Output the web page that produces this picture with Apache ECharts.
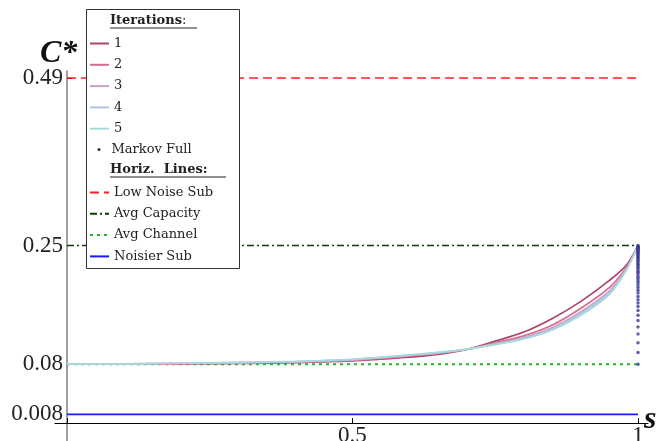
<!DOCTYPE html>
<html>
<head>
<meta charset="utf-8">
<script src="https://cdn.jsdelivr.net/npm/echarts@6/dist/echarts.min.js"></script>
<style>html,body{margin:0;padding:0;background:#fff}#c{width:668px;height:441px}</style>
</head>
<body>
<div id="c"></div>
<script>
// s grid for the iteration curves
const sValues = [0, 0.1, 0.2, 0.3, 0.4, 0.5, 0.55, 0.6, 0.65, 0.7, 0.75, 0.8, 0.85, 0.9, 0.95, 0.98, 1.0];
const iter1 = [0.080, 0.0802, 0.0806, 0.0812, 0.0822, 0.0845, 0.0872, 0.0900, 0.0940, 0.1010, 0.1130, 0.1260, 0.1455, 0.1700, 0.2000, 0.2220, 0.250];
const iter2 = [0.080, 0.0803, 0.0809, 0.0816, 0.0829, 0.0855, 0.0883, 0.0915, 0.0953, 0.1012, 0.1105, 0.1205, 0.1360, 0.1600, 0.1900, 0.2190, 0.250];
const iter3 = [0.080, 0.0804, 0.0811, 0.0820, 0.0834, 0.0862, 0.0891, 0.0925, 0.0962, 0.1013, 0.1092, 0.1182, 0.1325, 0.1550, 0.1850, 0.2170, 0.250];
const iter4 = [0.080, 0.0805, 0.0813, 0.0823, 0.0837, 0.0866, 0.0896, 0.0930, 0.0966, 0.1014, 0.1085, 0.1170, 0.1305, 0.1525, 0.1825, 0.2160, 0.250];
const iter5 = [0.080, 0.0805, 0.0815, 0.0825, 0.0840, 0.0870, 0.0900, 0.0935, 0.0970, 0.1015, 0.1080, 0.1160, 0.1290, 0.1500, 0.1800, 0.2150, 0.250];
// Markov Full points (all at s = 1)
const markovS = 1.0;
const markovC = [0.080, 0.0966, 0.1107, 0.1232, 0.1333, 0.1424, 0.1502, 0.1568, 0.1626, 0.1675, 0.1722, 0.1770, 0.1818,
  0.186, 0.190, 0.1935, 0.197, 0.200, 0.203, 0.206, 0.209, 0.2115, 0.214, 0.2165, 0.219, 0.221, 0.223, 0.225, 0.227,
  0.229, 0.231, 0.2325, 0.234, 0.2355, 0.237, 0.2385, 0.240, 0.241, 0.242, 0.243, 0.244, 0.245, 0.246, 0.247, 0.248, 0.249, 0.250];
// horizontal reference lines
const hLineNames = ['Low Noise Sub', 'Avg Capacity', 'Avg Channel', 'Noisier Sub'];
const hLineValues = [0.49, 0.25, 0.08, 0.008];
const hLineSpan = [0, 1];
// ticks
const yTicks = [0.008, 0.08, 0.25, 0.49];
const xTickMarks = [0, 0.5, 1];
const xTickLabels = [0.5, 1];
const iterNames = ['1', '2', '3', '4', '5'];

const iterData = [iter1, iter2, iter3, iter4, iter5];
const iterColors = ['#a9446f', '#d66d8d', '#cf9fcc', '#adc2e3', '#a6dbdb'];
const hStyles = [
  {color: '#ff2020', type: [9, 5], width: 1.6},
  {color: '#0f3a0f', type: [7, 3, 2, 3], width: 1.4},
  {color: '#22b822', type: [3, 4], width: 2},
  {color: '#1a1aff', type: 'solid', width: 1.8}
];

const series = [];
iterData.forEach((arr, i) => {
  series.push({
    name: iterNames[i], type: 'line', smooth: 0.3, symbol: 'none', z: 3,
    data: sValues.map((s, j) => [s, arr[j]]),
    lineStyle: {color: iterColors[i], width: 1.7}, itemStyle: {color: iterColors[i]}
  });
});
series.push({
  name: 'Markov Full', type: 'scatter', symbolSize: 3.5, z: 4,
  data: markovC.map(v => [markovS, v]),
  itemStyle: {color: '#3b3b96'}
});
hLineNames.forEach((n, i) => {
  series.push({
    name: n, type: 'line', symbol: 'none', z: 2,
    data: hLineSpan.map(s => [s, hLineValues[i]]),
    lineStyle: hStyles[i], itemStyle: {color: hStyles[i].color}
  });
});

const legText = {fontFamily: 'DejaVu Serif', fontSize: 13, color: '#222'};
const chart = echarts.init(document.getElementById('c'), null, {renderer: 'canvas'});
chart.setOption({
  animation: false,
  backgroundColor: '#fff',
  grid: [
    {left: 55, right: 20, top: 71, bottom: 18, containLabel: false, outerBoundsMode: 'none'},
    {left: 55, right: 20, top: 423, bottom: 0, containLabel: false, outerBoundsMode: 'none'}
  ],
  xAxis: [{
    type: 'value', min: -0.021, max: 1.0175, gridIndex: 0,
    axisLine: {onZero: false, lineStyle: {color: '#000', width: 1.2}},
    splitLine: {show: false},
    axisTick: {customValues: xTickMarks, inside: true, length: 5, lineStyle: {color: '#000'}},
    axisLabel: {customValues: xTickLabels, margin: 1, fontFamily: 'Liberation Serif', fontSize: 23, color: '#222',
      formatter: v => String(v)}
  }, {
    type: 'value', min: -0.021, max: 1.0175, gridIndex: 1,
    axisLine: {show: false}, axisTick: {show: false}, axisLabel: {show: false}, splitLine: {show: false}
  }],
  yAxis: [{
    type: 'value', min: -0.0043, max: 0.5, gridIndex: 0,
    axisLine: {onZero: true, lineStyle: {color: '#888', width: 1.6}},
    splitLine: {show: false},
    axisTick: {customValues: yTicks, inside: true, length: 5, lineStyle: {color: '#000'}},
    axisLabel: {customValues: yTicks, margin: -8, fontFamily: 'Liberation Serif', fontSize: 23, color: '#222',
      formatter: v => String(v)}
  }, {
    type: 'value', min: -1, max: 1, gridIndex: 1,
    axisLine: {onZero: true, lineStyle: {color: '#888', width: 1.6}},
    axisTick: {show: false}, axisLabel: {show: false}, splitLine: {show: false}
  }],
  legend: [
    {data: iterNames, orient: 'vertical', left: 89, top: 37, padding: 0, itemWidth: 19, itemHeight: 14, itemGap: 8.3,
      selectedMode: false, textStyle: legText, itemStyle: {opacity: 0}, z: 20},
    {data: [{name: 'Markov Full', icon: 'circle', itemStyle: {color: '#000'}}], orient: 'vertical', left: 97.5, top: 143,
      padding: 0, itemWidth: 3, itemHeight: 3, selectedMode: false, textStyle: Object.assign({padding: [0, 0, 0, 6]}, legText), z: 20},
    {data: hLineNames, orient: 'vertical', left: 89, top: 186, padding: 0, itemWidth: 19, itemHeight: 14, itemGap: 8.3,
      selectedMode: false, textStyle: legText, itemStyle: {opacity: 0}, z: 20}
  ],
  graphic: [
    {type: 'rect', shape: {x: 86.5, y: 9.5, width: 153, height: 259}, style: {fill: '#fff', stroke: '#333', lineWidth: 1}, z: 10},
    {type: 'text', x: 110, y: 21, z: 21, style: {text: '{b|Iterations}{n|:}', verticalAlign: 'middle',
      rich: {b: {fontFamily: 'DejaVu Serif', fontWeight: 'bold', fontSize: 13, fill: '#222'},
             n: {fontFamily: 'DejaVu Serif', fontSize: 13, fill: '#222'}}}},
    {type: 'line', z: 21, shape: {x1: 110, y1: 28, x2: 197, y2: 28}, style: {stroke: '#222', lineWidth: 1}},
    {type: 'text', x: 110, y: 170, z: 21, style: {text: 'Horiz.  Lines:', verticalAlign: 'middle',
      fontFamily: 'DejaVu Serif', fontWeight: 'bold', fontSize: 13, fill: '#222'}},
    {type: 'line', z: 21, shape: {x1: 110, y1: 177, x2: 226, y2: 177}, style: {stroke: '#222', lineWidth: 1}},
    {type: 'text', x: 40, y: 38, z: 21, style: {text: 'C*', fontFamily: 'Liberation Serif', fontStyle: 'italic',
      fontWeight: 'bold', fontSize: 32, fill: '#111'}},
    {type: 'text', x: 644, y: 404, z: 21, style: {text: 's', fontFamily: 'Liberation Serif', fontStyle: 'italic',
      fontWeight: 'bold', fontSize: 32, fill: '#111'}}
  ],
  series: series
});
</script>
</body>
</html>
